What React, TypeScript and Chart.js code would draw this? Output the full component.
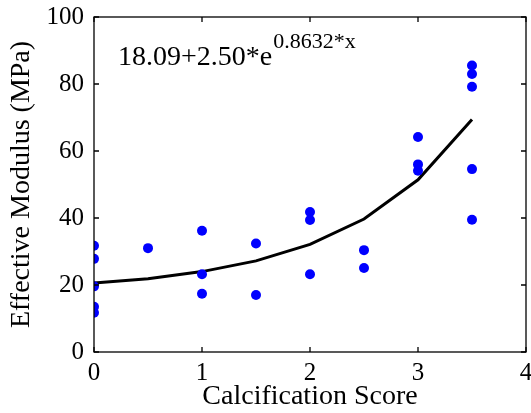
import React, { useEffect, useRef } from "react";
import { Chart, registerables } from "chart.js";

Chart.register(...registerables);

const scoreX = [0, 0, 0, 0, 0, 0.5, 1, 1, 1, 1.5, 1.5, 2, 2, 2, 2.5, 2.5, 3, 3, 3, 3.5, 3.5, 3.5, 3.5, 3.5];
const modulusY = [31.7, 27.8, 19.6, 13.5, 11.7, 31.0, 36.2, 23.2, 17.4, 32.4, 17.0, 41.8, 39.4, 23.2, 30.4, 25.1, 64.2, 56.0, 54.1, 85.5, 83.0, 79.2, 54.6, 39.5];
const fitX = [0, 0.5, 1, 1.5, 2, 2.5, 3, 3.5];
const fitY = [20.6, 21.9, 24.0, 27.2, 32.1, 39.7, 51.4, 69.4];
const xTicks = [0, 1, 2, 3, 4];
const yTicks = [0, 20, 40, 60, 80, 100];
const fitMain = "18.09+2.50*e";
const fitSup = "0.8632*x";
const xTitle = "Calcification Score";
const yTitle = "Effective Modulus (MPa)";

const FONT = "'Liberation Serif', 'Times New Roman', serif";

const boxPlugin = {
  id: "boxTicks",
  afterDraw(chart: any) {
    const { ctx, chartArea } = chart;
    const { left, right, top, bottom } = chartArea;
    const xs = chart.scales.x;
    const ys = chart.scales.y;
    ctx.save();
    ctx.strokeStyle = "#000";
    ctx.lineWidth = 1.3;
    ctx.strokeRect(left, top, right - left, bottom - top);
    const tl = 5;
    ctx.beginPath();
    xTicks.forEach((v) => {
      const px = xs.getPixelForValue(v);
      ctx.moveTo(px, bottom);
      ctx.lineTo(px, bottom - tl);
      ctx.moveTo(px, top);
      ctx.lineTo(px, top + tl);
    });
    yTicks.forEach((v) => {
      const py = ys.getPixelForValue(v);
      ctx.moveTo(left, py);
      ctx.lineTo(left + tl, py);
      ctx.moveTo(right, py);
      ctx.lineTo(right - tl, py);
    });
    ctx.stroke();

    // fit equation annotation
    ctx.fillStyle = "#000";
    ctx.textBaseline = "alphabetic";
    ctx.textAlign = "left";
    ctx.font = `28px ${FONT}`;
    const ax = 118;
    const ay = 65;
    ctx.fillText(fitMain, ax, ay);
    const w = ctx.measureText(fitMain).width;
    ctx.font = `22px ${FONT}`;
    ctx.fillText(fitSup, ax + w + 1, ay - 17);
    ctx.restore();
  },
};

export default function App() {
  const ref = useRef<HTMLCanvasElement | null>(null);
  useEffect(() => {
    if (!ref.current) return;
    const chart = new Chart(ref.current, {
      type: "scatter",
      data: {
        datasets: [
          {
            type: "line",
            label: "fit",
            data: fitX.map((x, i) => ({ x, y: fitY[i] })),
            borderColor: "#000",
            borderWidth: 3,
            pointRadius: 0,
            fill: false,
            tension: 0,
            order: 2,
          } as any,
          {
            type: "scatter",
            label: "data",
            data: scoreX.map((x, i) => ({ x, y: modulusY[i] })),
            backgroundColor: "#0000ff",
            borderColor: "#0000ff",
            borderWidth: 0,
            pointRadius: 5,
            order: 1,
          },
        ],
      },
      options: {
        animation: false,
        responsive: false,
        devicePixelRatio: 1,
        layout: { padding: { top: 17, right: 3, left: 0, bottom: 0 } },
        plugins: { legend: { display: false }, tooltip: { enabled: false } },
        scales: {
          x: {
            type: "linear",
            min: 0,
            max: 4,
            grid: { display: false, drawTicks: false },
            border: { display: false },
            afterBuildTicks: (s: any) => {
              s.ticks = xTicks.map((v) => ({ value: v }));
            },
            ticks: {
              color: "#000",
              font: { family: FONT, size: 25 },
              padding: 6,
              maxRotation: 0,
              autoSkip: false,
            },
            title: {
              display: true,
              text: xTitle,
              color: "#000",
              font: { family: FONT, size: 28 },
              padding: { top: 0, bottom: 0 },
            },
            afterFit: (s: any) => {
              s.height = 61;
              s.paddingLeft = 0;
              s.paddingRight = 0;
            },
          },
          y: {
            type: "linear",
            min: 0,
            max: 100,
            grid: { display: false, drawTicks: false },
            border: { display: false },
            afterBuildTicks: (s: any) => {
              s.ticks = yTicks.map((v) => ({ value: v }));
            },
            ticks: {
              color: "#000",
              font: { family: FONT, size: 25 },
              padding: 10,
              autoSkip: false,
            },
            title: {
              display: true,
              text: yTitle,
              color: "#000",
              font: { family: FONT, size: 28 },
              padding: { top: 5, bottom: 0 },
            },
            afterFit: (s: any) => {
              s.width = 94;
              s.paddingTop = 0;
              s.paddingBottom = 0;
            },
          },
        },
      },
      plugins: [boxPlugin],
    });
    return () => chart.destroy();
  }, []);
  return (
    <div style={{ position: "fixed", left: 0, top: 0, width: 531, height: 413, background: "#fff" }}>
      <canvas ref={ref} width={531} height={413} style={{ width: 531, height: 413 }} />
    </div>
  );
}
